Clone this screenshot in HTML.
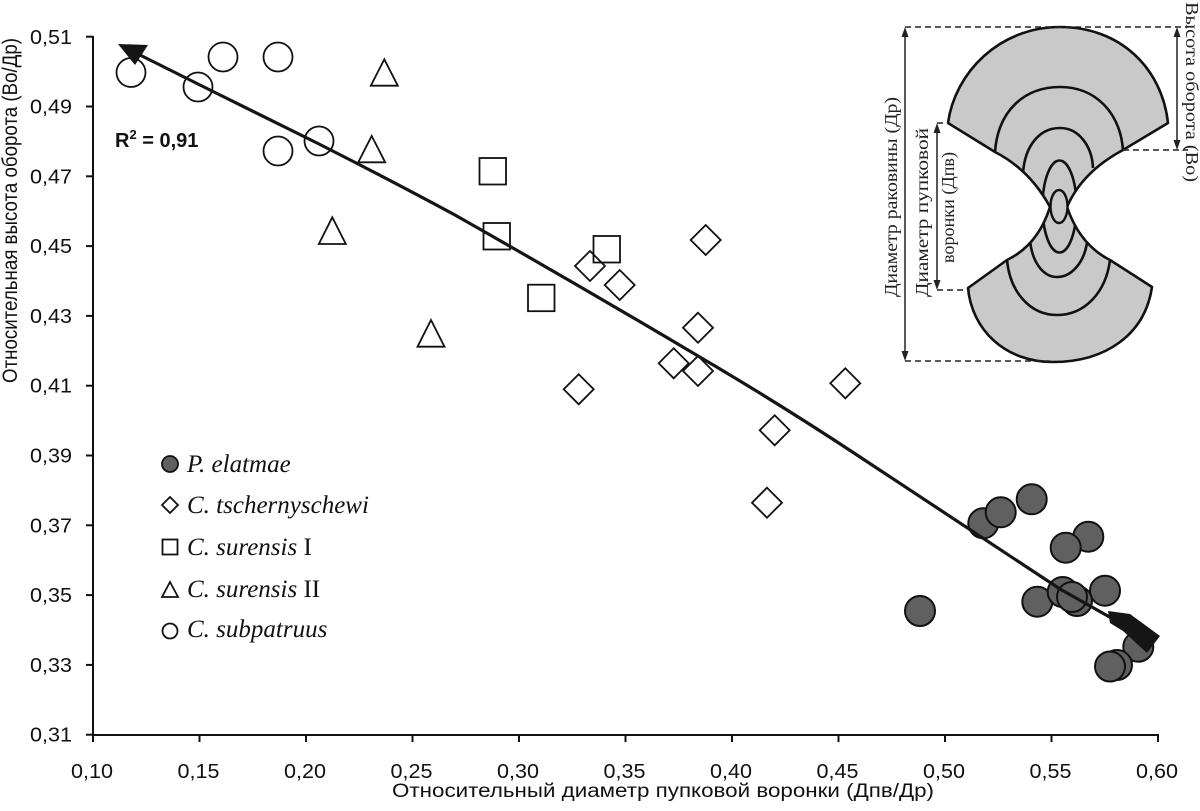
<!DOCTYPE html>
<html>
<head>
<meta charset="utf-8">
<style>
  html,body{margin:0;padding:0;background:#fff;}
  svg{display:block;}
  .ax{font-family:"Liberation Sans",Arial,sans-serif;font-size:20px;fill:#111;}
  .tt{font-family:"Liberation Sans",Arial,sans-serif;font-size:19px;fill:#111;}
  .lg{font-family:"Liberation Serif","Times New Roman",serif;font-size:25px;fill:#111;}
  .ins{font-family:"Liberation Serif","Times New Roman",serif;font-size:18px;fill:#222;}
</style>
</head>
<body>
<svg width="1200" height="811" viewBox="0 0 1200 811" xmlns="http://www.w3.org/2000/svg">
  <rect width="1200" height="811" fill="#fff"/>

  <!-- Axes -->
  <g stroke="#111" stroke-width="2" fill="none">
    <line x1="93" y1="36" x2="93" y2="735"/>
    <line x1="92" y1="735" x2="1159" y2="735"/>
    <line x1="86" y1="36.7" x2="93" y2="36.7"/>
    <line x1="86" y1="106.5" x2="93" y2="106.5"/>
    <line x1="86" y1="176.3" x2="93" y2="176.3"/>
    <line x1="86" y1="246.1" x2="93" y2="246.1"/>
    <line x1="86" y1="315.9" x2="93" y2="315.9"/>
    <line x1="86" y1="385.7" x2="93" y2="385.7"/>
    <line x1="86" y1="455.5" x2="93" y2="455.5"/>
    <line x1="86" y1="525.3" x2="93" y2="525.3"/>
    <line x1="86" y1="595.1" x2="93" y2="595.1"/>
    <line x1="86" y1="664.9" x2="93" y2="664.9"/>
    <line x1="86" y1="734.7" x2="93" y2="734.7"/>
    <line x1="93" y1="735" x2="93" y2="742"/>
    <line x1="199.5" y1="735" x2="199.5" y2="742"/>
    <line x1="306" y1="735" x2="306" y2="742"/>
    <line x1="412.5" y1="735" x2="412.5" y2="742"/>
    <line x1="519" y1="735" x2="519" y2="742"/>
    <line x1="625.5" y1="735" x2="625.5" y2="742"/>
    <line x1="732" y1="735" x2="732" y2="742"/>
    <line x1="838.5" y1="735" x2="838.5" y2="742"/>
    <line x1="945" y1="735" x2="945" y2="742"/>
    <line x1="1051.5" y1="735" x2="1051.5" y2="742"/>
    <line x1="1158" y1="735" x2="1158" y2="742"/>
  </g>

  <!-- y tick labels -->
  <g class="ax" text-anchor="end">
    <text x="72" y="44" textLength="42" lengthAdjust="spacingAndGlyphs">0,51</text>
    <text x="72" y="113.5" textLength="42" lengthAdjust="spacingAndGlyphs">0,49</text>
    <text x="72" y="183.3" textLength="42" lengthAdjust="spacingAndGlyphs">0,47</text>
    <text x="72" y="253.1" textLength="42" lengthAdjust="spacingAndGlyphs">0,45</text>
    <text x="72" y="322.9" textLength="42" lengthAdjust="spacingAndGlyphs">0,43</text>
    <text x="72" y="392.7" textLength="42" lengthAdjust="spacingAndGlyphs">0,41</text>
    <text x="72" y="462.5" textLength="42" lengthAdjust="spacingAndGlyphs">0,39</text>
    <text x="72" y="532.3" textLength="42" lengthAdjust="spacingAndGlyphs">0,37</text>
    <text x="72" y="602.1" textLength="42" lengthAdjust="spacingAndGlyphs">0,35</text>
    <text x="72" y="671.9" textLength="42" lengthAdjust="spacingAndGlyphs">0,33</text>
    <text x="72" y="741.7" textLength="42" lengthAdjust="spacingAndGlyphs">0,31</text>
  </g>
  <!-- x tick labels -->
  <g class="ax" text-anchor="middle">
    <text x="92" y="778" textLength="42" lengthAdjust="spacingAndGlyphs">0,10</text>
    <text x="198.5" y="778" textLength="42" lengthAdjust="spacingAndGlyphs">0,15</text>
    <text x="305" y="778" textLength="42" lengthAdjust="spacingAndGlyphs">0,20</text>
    <text x="411.5" y="778" textLength="42" lengthAdjust="spacingAndGlyphs">0,25</text>
    <text x="518" y="778" textLength="42" lengthAdjust="spacingAndGlyphs">0,30</text>
    <text x="624.5" y="778" textLength="42" lengthAdjust="spacingAndGlyphs">0,35</text>
    <text x="731" y="778" textLength="42" lengthAdjust="spacingAndGlyphs">0,40</text>
    <text x="837.5" y="778" textLength="42" lengthAdjust="spacingAndGlyphs">0,45</text>
    <text x="944" y="778" textLength="42" lengthAdjust="spacingAndGlyphs">0,50</text>
    <text x="1050.5" y="778" textLength="42" lengthAdjust="spacingAndGlyphs">0,55</text>
    <text x="1157" y="778" textLength="42" lengthAdjust="spacingAndGlyphs">0,60</text>
  </g>

  <!-- axis titles -->
  <text class="tt" x="392" y="797" textLength="542" lengthAdjust="spacingAndGlyphs">Относительный диаметр пупковой воронки (Дпв/Др)</text>
  <text class="tt" transform="translate(17,210.5) rotate(-90) scale(1,1.12)" text-anchor="middle" textLength="345" lengthAdjust="spacingAndGlyphs">Относительная высота оборота (Во/Др)</text>

  <!-- R2 -->
  <text x="115" y="147" font-family="Liberation Sans, Arial, sans-serif" font-weight="bold" font-size="20" fill="#111">R<tspan font-size="13" dy="-8">2</tspan><tspan dy="8"> = 0,91</tspan></text>

  <!-- Open circles: C. subpatruus -->
  <g fill="none" stroke="#111" stroke-width="1.8">
    <circle cx="131" cy="72.5" r="14.5"/>
    <circle cx="198" cy="87" r="14.5"/>
    <circle cx="223" cy="57" r="14.5"/>
    <circle cx="278" cy="57" r="14.5"/>
    <circle cx="278" cy="151" r="14.5"/>
    <circle cx="319" cy="141" r="14.5"/>
  </g>
  <!-- Triangles: C. surensis II -->
  <g fill="none" stroke="#111" stroke-width="1.8" stroke-linejoin="miter">
    <polygon points="384.3,59.3 397.8,85.7 370.8,85.7"/>
    <polygon points="371.7,136 385.2,162.3 358.2,162.3"/>
    <polygon points="332.3,217.3 345.8,244 318.8,244"/>
    <polygon points="431,320 444.5,346.7 417.5,346.7"/>
  </g>
  <!-- Squares: C. surensis I -->
  <g fill="none" stroke="#111" stroke-width="1.8">
    <rect x="479.5" y="158" width="26.5" height="26.5"/>
    <rect x="483.5" y="223" width="26.5" height="26.5"/>
    <rect x="593.5" y="236" width="26.5" height="26.5"/>
    <rect x="528" y="284.7" width="26.5" height="26.5"/>
  </g>
  <!-- Diamonds: C. tschernyschewi -->
  <g fill="none" stroke="#111" stroke-width="1.8">
    <polygon points="705.7,225 720.7,240 705.7,255 690.7,240"/>
    <polygon points="590,251 605,266 590,281 575,266"/>
    <polygon points="619.7,270 634.7,285 619.7,300 604.7,285"/>
    <polygon points="698,312.7 713,327.7 698,342.7 683,327.7"/>
    <polygon points="673.7,348.3 688.7,363.3 673.7,378.3 658.7,363.3"/>
    <polygon points="698,356 713,371 698,386 683,371"/>
    <polygon points="578.7,374.3 593.7,389.3 578.7,404.3 563.7,389.3"/>
    <polygon points="845.3,368.3 860.3,383.3 845.3,398.3 830.3,383.3"/>
    <polygon points="774.7,415.3 789.7,430.3 774.7,445.3 759.7,430.3"/>
    <polygon points="767,487.7 782,502.7 767,517.7 752,502.7"/>
  </g>
  <!-- Filled circles: P. elatmae -->
  <g fill="#606060" stroke="#111" stroke-width="2">
    <circle cx="920" cy="611" r="15"/>
    <circle cx="983.3" cy="523.3" r="15"/>
    <circle cx="1000.7" cy="512.3" r="15"/>
    <circle cx="1031.7" cy="499.3" r="15"/>
    <circle cx="1088.3" cy="536.7" r="15"/>
    <circle cx="1065.7" cy="547.7" r="15"/>
    <circle cx="1037.3" cy="601.7" r="15"/>
    <circle cx="1105" cy="590.7" r="15"/>
    <circle cx="1062.7" cy="592" r="15"/>
    <circle cx="1077" cy="601" r="15"/>
    <circle cx="1072" cy="597" r="15"/>
    <circle cx="1138.3" cy="646.7" r="15"/>
    <circle cx="1117" cy="665" r="15"/>
    <circle cx="1110" cy="666.5" r="15"/>
  </g>

  <!-- Trend line -->
  <path d="M136,53 Q180,75 210,90 Q265,117 319,144 Q390,180 455,215 Q575,283 693,353 Q780,404 860,457 Q960,523 1060,589 L1122,624" fill="none" stroke="#151515" stroke-width="3.2" stroke-linejoin="round"/>
  <polygon points="118,44 148,45 135,65" fill="#151515"/>
  <polygon points="1108,611 1130,614 1160,636 1147,653 1123,631 1110,623" fill="#151515"/>

  <!-- Legend -->
  <g>
    <circle cx="170" cy="464" r="8" fill="#606060" stroke="#111" stroke-width="1.8"/>
    <polygon points="170,497 178,505 170,513 162,505" fill="none" stroke="#111" stroke-width="1.8"/>
    <rect x="162.5" y="539.5" width="15" height="15" fill="none" stroke="#111" stroke-width="1.8"/>
    <polygon points="170,582 178,597 162,597" fill="none" stroke="#111" stroke-width="1.8"/>
    <circle cx="170" cy="631" r="7.5" fill="none" stroke="#111" stroke-width="1.8"/>
    <text class="lg" x="187" y="472"><tspan font-style="italic">P. elatmae</tspan></text>
    <text class="lg" x="187" y="513"><tspan font-style="italic">C. tschernyschewi</tspan></text>
    <text class="lg" x="187" y="555"><tspan font-style="italic">C. surensis</tspan> I</text>
    <text class="lg" x="187" y="597"><tspan font-style="italic">C. surensis</tspan> II</text>
    <text class="lg" x="187" y="637"><tspan font-style="italic">C. subpatruus</tspan></text>
  </g>

  <!-- Inset diagram -->
  <defs>
    <clipPath id="shell">
      <path d="M948,123 C955,72 1000,27 1060,27 C1120,27 1162,68 1168,123 L1123,150 Q1082,172 1067,207 Q1080,245 1110,260 L1152,287 C1145,335 1105,362 1053,362 C1005,362 972,330 968,288 L1007,260 Q1038,245 1050,207 Q1030,170 995,152 Z"/>
    </clipPath>
  </defs>
  <path d="M948,123 C955,72 1000,27 1060,27 C1120,27 1162,68 1168,123 L1123,150 Q1082,172 1067,207 Q1080,245 1110,260 L1152,287 C1145,335 1105,362 1053,362 C1005,362 972,330 968,288 L1007,260 Q1038,245 1050,207 Q1030,170 995,152 Z" fill="#c9c9c9" stroke="none"/>
  <g clip-path="url(#shell)" fill="none" stroke="#111" stroke-width="2.6">
    <path d="M995,152 C998,110 1025,87 1060,87 C1095,87 1120,112 1123,150"/>
    <path d="M1023,173 C1025,145 1040,128 1060,128 C1078,128 1092,145 1093,168"/>
    <path d="M1007,260 C1010,292 1030,315 1057,315 C1085,315 1106,292 1110,260"/>
    <path d="M1030,240 C1032,262 1043,277 1057,277 C1072,277 1084,262 1087,243"/>
    <ellipse cx="1059.5" cy="206.5" rx="17" ry="46"/>
  </g>
  <path d="M948,123 C955,72 1000,27 1060,27 C1120,27 1162,68 1168,123 L1123,150 Q1082,172 1067,207 Q1080,245 1110,260 L1152,287 C1145,335 1105,362 1053,362 C1005,362 972,330 968,288 L1007,260 Q1038,245 1050,207 Q1030,170 995,152 Z" fill="none" stroke="#111" stroke-width="2.6" stroke-linejoin="round"/>
  <ellipse cx="1059" cy="206.5" rx="8.5" ry="16.5" fill="#c9c9c9" stroke="#111" stroke-width="2.4"/>

  <!-- dashed guide lines -->
  <g stroke="#222" stroke-width="1.5" stroke-dasharray="6,4" fill="none">
    <line x1="905" y1="27" x2="1188" y2="27"/>
    <line x1="905" y1="361" x2="1050" y2="361"/>
    <line x1="937" y1="123" x2="950" y2="123"/>
    <line x1="937" y1="290" x2="970" y2="290"/>
    <line x1="1123" y1="150" x2="1188" y2="150"/>
  </g>
  <!-- dimension arrows -->
  <g stroke="#222" stroke-width="1.5">
    <line x1="905" y1="30" x2="905" y2="358"/>
    <line x1="937" y1="126" x2="937" y2="287"/>
    <line x1="1177" y1="30" x2="1177" y2="147"/>
  </g>
  <g fill="#222">
    <polygon points="905,27 901.5,37 908.5,37"/>
    <polygon points="905,361 901.5,351 908.5,351"/>
    <polygon points="937,123 933.5,133 940.5,133"/>
    <polygon points="937,290 933.5,280 940.5,280"/>
    <polygon points="1177,27 1173.5,37 1180.5,37"/>
    <polygon points="1177,150 1173.5,140 1180.5,140"/>
  </g>
  <!-- inset labels -->
  <text class="ins" transform="translate(897,197) rotate(-90)" text-anchor="middle" textLength="200" lengthAdjust="spacingAndGlyphs">Диаметр раковины (Др)</text>
  <text class="ins" transform="translate(928,212.5) rotate(-90)" text-anchor="middle" textLength="169" lengthAdjust="spacingAndGlyphs">Диаметр пупковой</text>
  <text class="ins" transform="translate(954,207.5) rotate(-90)" text-anchor="middle" textLength="111" lengthAdjust="spacingAndGlyphs">воронки (Дпв)</text>
  <text class="ins" transform="translate(1186,92) rotate(90)" text-anchor="middle" textLength="180" lengthAdjust="spacingAndGlyphs">Высота оборота (Во)</text>
</svg>
</body>
</html>
